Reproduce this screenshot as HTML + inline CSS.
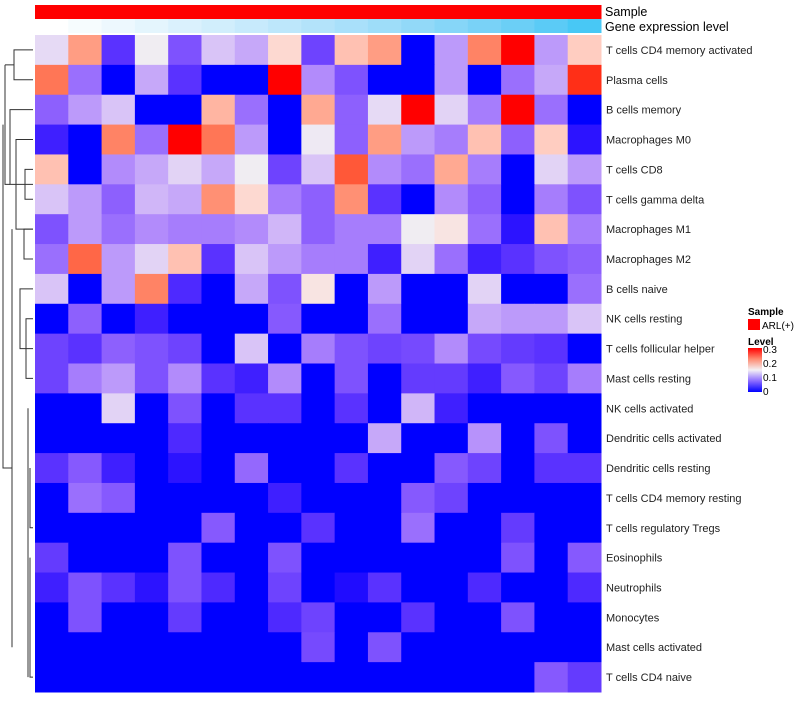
<!DOCTYPE html>
<html><head><meta charset="utf-8"><style>
body{margin:0;background:#fff;font-family:"Liberation Sans",sans-serif;}
svg text{font-family:"Liberation Sans",sans-serif;}
</style></head><body>
<svg id="chart" width="800" height="700" xmlns="http://www.w3.org/2000/svg">
<g id="dendro" stroke="#333" stroke-width="1" fill="none"></g>
<g id="cells"></g>
<g id="annos"></g>
<g id="labels" font-size="11" fill="#222"></g>
<text x="605" y="16" font-size="12.5" fill="#000">Sample</text>
<text x="605" y="31" font-size="12.5" fill="#000">Gene expression level</text>
<g>
<text x="748" y="315" font-size="10" font-weight="bold">Sample</text>
<rect x="748" y="319" width="12" height="11" fill="#ff0000"/>
<text x="762" y="329" font-size="10">ARL(+)</text>
<text x="748" y="345" font-size="10" font-weight="bold">Level</text>
<defs><linearGradient id="lg" x1="0" y1="1" x2="0" y2="0">
<stop offset="0" stop-color="#0000ff"/><stop offset="0.25" stop-color="#8c6cff"/><stop offset="0.5" stop-color="#f4f0f4"/><stop offset="0.75" stop-color="#ff8a70"/><stop offset="1" stop-color="#ff0000"/></linearGradient></defs>
<rect x="748" y="348" width="14" height="44" fill="url(#lg)"/>
<text x="763" y="353" font-size="10">0.3</text>
<text x="763" y="367" font-size="10">0.2</text>
<text x="763" y="381" font-size="10">0.1</text>
<text x="763" y="395" font-size="10">0</text>
</g>
</svg>
<script>
const rowNames=["T cells CD4 memory activated","Plasma cells","B cells memory","Macrophages M0","T cells CD8","T cells gamma delta","Macrophages M1","Macrophages M2","B cells naive","NK cells resting","T cells follicular helper","Mast cells resting","NK cells activated","Dendritic cells activated","Dendritic cells resting","T cells CD4 memory resting","T cells regulatory  Tregs","Eosinophils","Neutrophils","Monocytes","Mast cells activated","T cells CD4 naive"];
const r1=[0.135,0.22,0.02,0.148,0.04,0.12,0.10,0.17,0.03,0.19,0.22,0,0.09,0.24,0.3,0.09,0.18];
const r2=[0.25,0.06,0,0.10,0.02,0,0,0.3,0.08,0.04,0,0,0.09,0,0.06,0.10,0.29];
const r3=[0.05,0.09,0.12,0,0,0.2,0.06,0,0.21,0.05,0.135,0.3,0.13,0.07,0.3,0.06,0];
const r4=[0.01,0,0.24,0.06,0.3,0.25,0.09,0,0.145,0.05,0.22,0.09,0.07,0.19,0.05,0.18,0.005];
const r5=[0.19,0,0.08,0.10,0.13,0.10,0.148,0.03,0.12,0.27,0.08,0.06,0.21,0.07,0,0.13,0.09];
const r6=[0.12,0.09,0.05,0.11,0.10,0.23,0.17,0.07,0.05,0.23,0.02,0,0.08,0.05,0,0.07,0.04];
const r7=[0.04,0.09,0.06,0.08,0.07,0.07,0.08,0.11,0.05,0.07,0.07,0.148,0.16,0.06,0.005,0.19,0.07];
const r8=[0.06,0.26,0.09,0.13,0.19,0.02,0.12,0.09,0.07,0.07,0.01,0.13,0.06,0.01,0.02,0.04,0.05];
const r9=[0.12,0,0.09,0.24,0.015,0,0.10,0.04,0.16,0,0.09,0,0,0.13,0,0,0.06];
const r10=[0,0.05,0,0.01,0,0,0,0.045,0,0,0.06,0,0,0.10,0.09,0.09,0.12];
const r11=[0.03,0.02,0.05,0.04,0.03,0,0.12,0,0.07,0.04,0.03,0.035,0.08,0.035,0.025,0.02,0];
const r12=[0.03,0.07,0.09,0.04,0.08,0.02,0.01,0.08,0,0.04,0,0.025,0.025,0.01,0.045,0.03,0.07];
const r13=[0,0,0.13,0,0.04,0,0.02,0.02,0,0.02,0,0.11,0.01,0,0,0,0];
const r14=[0,0,0,0,0.015,0,0,0,0,0,0.10,0,0,0.085,0,0.04,0];
const r15=[0.02,0.045,0.01,0,0.005,0,0.055,0,0,0.02,0,0,0.045,0.03,0,0.02,0.02];
const r16=[0,0.06,0.045,0,0,0,0,0.01,0,0,0,0.045,0.03,0,0,0,0];
const r17=[0,0,0,0,0,0.045,0,0,0.02,0,0,0.06,0,0,0.025,0,0];
const r18=[0.025,0,0,0,0.04,0,0,0.04,0,0,0,0,0,0,0.04,0,0.045];
const r19=[0.01,0.04,0.02,0.005,0.04,0.015,0,0.03,0,0.003,0.02,0,0,0.015,0,0,0.015];
const r20=[0,0.04,0,0,0.025,0,0,0.015,0.03,0,0,0.02,0,0,0.04,0,0];
const r21=[0,0,0,0,0,0,0,0,0.035,0,0.04,0,0,0,0,0,0];
const r22=[0,0,0,0,0,0,0,0,0,0,0,0,0,0,0,0.045,0.025];
const values=[r1,r2,r3,r4,r5,r6,r7,r8,r9,r10,r11,r12,r13,r14,r15,r16,r17,r18,r19,r20,r21,r22];
const geneLevel=[0,1,2,3,4,5,6,7,8,9,10,11,12,13,14,15,16];

const X0=35,X1=601,Y0=35,Y1=692;
const nC=r1.length,nR=values.length;
const cw=(X1-X0)/nC,rh=(Y1-Y0)/nR;
const xS=c=>X0+c*cw, yS=r=>Y0+r*rh;
function toLab(h){let r=parseInt(h.slice(1,3),16)/255,g=parseInt(h.slice(3,5),16)/255,b=parseInt(h.slice(5,7),16)/255;
 const f=v=>v>0.04045?Math.pow((v+0.055)/1.055,2.4):v/12.92;r=f(r);g=f(g);b=f(b);
 let x=(r*0.4124+g*0.3576+b*0.1805)/0.95047,y=r*0.2126+g*0.7152+b*0.0722,z=(r*0.0193+g*0.1192+b*0.9505)/1.08883;
 const k=t=>t>0.008856?Math.cbrt(t):7.787*t+16/116;x=k(x);y=k(y);z=k(z);return [116*y-16,500*(x-y),200*(y-z)];}
function fromLab(l){let y=(l[0]+16)/116,x=l[1]/500+y,z=y-l[2]/200;
 const k=t=>t*t*t>0.008856?t*t*t:(t-16/116)/7.787;x=k(x)*0.95047;y=k(y);z=k(z)*1.08883;
 let r=x*3.2406+y*-1.5372+z*-0.4986,g=x*-0.9689+y*1.8758+z*0.0415,b=x*0.0557+y*-0.2040+z*1.0570;
 const f=v=>{v=v>0.0031308?1.055*Math.pow(v,1/2.4)-0.055:12.92*v;return Math.round(Math.max(0,Math.min(1,v))*255);};
 return `rgb(${f(r)},${f(g)},${f(b)})`;}
function interp(stops,cols,v){v=Math.max(stops[0],Math.min(stops[stops.length-1],v));
 let i=0;while(i<stops.length-2&&v>stops[i+1])i++;const t=(v-stops[i])/(stops[i+1]-stops[i]);
 const a=toLab(cols[i]),b=toLab(cols[i+1]);return fromLab(a.map((q,j)=>q+(b[j]-q)*t));}
const color=v=>interp([0,0.15,0.3],["#0000ff","#f2f0f2","#ff0000"],v);
const NS="http://www.w3.org/2000/svg";
const cells=document.getElementById('cells');
values.forEach((row,r)=>row.forEach((v,c)=>{
 const e=document.createElementNS(NS,'rect');
 e.setAttribute('x',xS(c));e.setAttribute('y',yS(r));e.setAttribute('width',cw+0.5);e.setAttribute('height',rh+0.5);
 e.setAttribute('fill',color(v));
 
 
 cells.appendChild(e);}));
const annos=document.getElementById('annos');
geneLevel.forEach((g,c)=>{
 const s=document.createElementNS(NS,'rect');
 s.setAttribute('x',xS(c));s.setAttribute('y',5);s.setAttribute('width',cw+0.5);s.setAttribute('height',14);s.setAttribute('fill','#ff0000');
 
 
 annos.appendChild(s);
 const e=document.createElementNS(NS,'rect');
 e.setAttribute('x',xS(c));e.setAttribute('y',19);e.setAttribute('width',cw+0.5);e.setAttribute('height',14);
 e.setAttribute('fill',interp([0,16],["#ffffff","#48c8f5"],g));
 
 
 annos.appendChild(e);});
const labels=document.getElementById('labels');
rowNames.forEach((n,r)=>{const t=document.createElementNS(NS,'text');
 t.setAttribute('x',606);t.setAttribute('y',yS(r)+rh/2+4);t.textContent=n;
 
 
 labels.appendChild(t);});
// dendrogram (approximate)
const cy=r=>yS(r)+rh/2;
const segs=[
 [[33,cy(0)],[14,cy(0)],[14,cy(1)],[33,cy(1)]],
 [[33,cy(2)],[10,cy(2)],[10,cy(4.5)],[33,cy(4.5)]],
 [[33,cy(4)],[25,cy(4)],[25,cy(5)],[33,cy(5)]],
 [[33,cy(3)],[16,cy(3)],[16,cy(6)],[33,cy(6)]],
 [[33,cy(6)],[24,cy(6)],[24,cy(7)],[33,cy(7)]],
 [[33,cy(8)],[20,cy(8)],[20,cy(10)],[33,cy(10)]],
 [[33,cy(9)],[26,cy(9)],[26,cy(11)],[33,cy(11)]],
 [[5,cy(0.5)],[5,cy(4.5)],[10,cy(4.5)]],
 [[5,cy(0.5)],[14,cy(0.5)]],
 [[3,cy(2.5)],[3,cy(14)],[12,cy(14)]],
 [[12,cy(6)],[12,cy(20)]],
 [[28,cy(12)],[28,cy(21)]],
 [[30,cy(14)],[30,cy(16)],[33,cy(16)]],
 [[30,cy(17)],[30,cy(21)],[33,cy(21)]]
];
const dg=document.getElementById('dendro');
segs.forEach(p=>{const e=document.createElementNS(NS,'polyline');
 e.setAttribute('points',p.map(q=>q.join(',')).join(' '));
 
 
 dg.appendChild(e);});
</script>
</body></html>
